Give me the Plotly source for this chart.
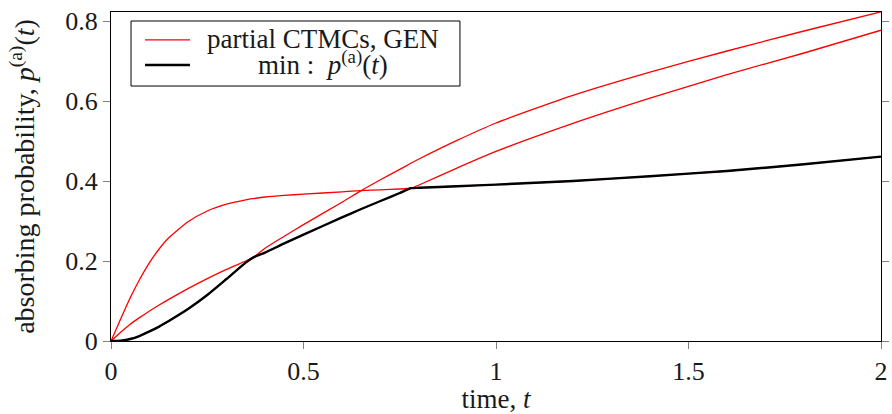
import numpy as np
import plotly.graph_objects as go

# time grid
t = [0, 0.025, 0.05, 0.075, 0.1, 0.125, 0.15, 0.2, 0.25, 0.3, 0.35, 0.37, 0.4, 0.45, 0.5,
     0.6, 0.65, 0.7, 0.75, 0.78, 0.8, 0.9, 1.0, 1.2, 1.4, 1.6, 1.8, 2.0]

# partial CTMC curves (red)
ctmc_fast = [0, 0.055, 0.108, 0.155, 0.196, 0.23, 0.258, 0.298, 0.325, 0.342, 0.353, 0.356, 0.36, 0.364, 0.367,
             0.373, 0.376, 0.378, 0.380, 0.382, 0.383, 0.387, 0.391, 0.4, 0.412, 0.425, 0.442, 0.461]
ctmc_concave = [0, 0.022, 0.042, 0.059, 0.075, 0.09, 0.104, 0.131, 0.156, 0.179, 0.2, 0.209, 0.221, 0.244, 0.266,
                0.309, 0.33, 0.35, 0.370, 0.382, 0.39, 0.433, 0.474, 0.544, 0.607, 0.666, 0.72, 0.777]
ctmc_sshape = [0, 0.001, 0.005, 0.013, 0.024, 0.036, 0.05, 0.08, 0.115, 0.155, 0.196, 0.209, 0.232, 0.262, 0.291,
               0.347, 0.376, 0.403, 0.429, 0.445, 0.455, 0.502, 0.545, 0.614, 0.672, 0.725, 0.775, 0.823]

series = [ctmc_fast, ctmc_concave, ctmc_sshape]
p_min = np.min(np.array(series), axis=0)

x_ticks = [0, 0.5, 1, 1.5, 2]
x_tick_text = ["0", "0.5", "1", "1.5", "2"]
y_ticks = [0, 0.2, 0.4, 0.6, 0.8]
y_tick_text = ["0", "0.2", "0.4", "0.6", "0.8"]

legend_labels = ["partial CTMCs, GEN", "min :\u00a0 <i>p</i><sup>(a)</sup>(<i>t</i>)"]

FONT = "Liberation Serif"
TXT = "#1a1a1a"

fig = go.Figure()
for i, s in enumerate(series):
    fig.add_trace(go.Scatter(
        x=t, y=s, mode="lines",
        line=dict(color="#ff0000", width=1.3, shape="spline", smoothing=0.6),
        name=legend_labels[0], showlegend=False,
    ))
fig.add_trace(go.Scatter(
    x=t, y=p_min, mode="lines",
    line=dict(color="#000000", width=2.4, shape="spline", smoothing=0.6),
    name=legend_labels[1], showlegend=False,
))

# hand-built legend box (paper coords = plot-area domain)
fig.add_shape(type="rect", xref="paper", yref="paper", x0=0.026, x1=0.4532, y0=0.775, y1=0.9726,
              line=dict(color="#000000", width=1), fillcolor="white", layer="above")
fig.add_shape(type="line", xref="paper", yref="paper", x0=0.0442, x1=0.1026, y0=0.915, y1=0.915,
              line=dict(color="#ff0000", width=1.3), layer="above")
fig.add_shape(type="line", xref="paper", yref="paper", x0=0.0442, x1=0.1026, y0=0.839, y1=0.839,
              line=dict(color="#000000", width=2.4), layer="above")
fig.add_annotation(xref="paper", yref="paper", x=0.275, y=0.917, text=legend_labels[0],
                   showarrow=False, xanchor="center", yanchor="middle",
                   font=dict(family=FONT, size=27, color=TXT))
fig.add_annotation(xref="paper", yref="paper", x=0.275, y=0.845, text=legend_labels[1],
                   showarrow=False, xanchor="center", yanchor="middle",
                   font=dict(family=FONT, size=27, color=TXT))

fig.update_layout(
    width=892, height=414,
    margin=dict(l=111, r=11, t=12, b=73),
    paper_bgcolor="white", plot_bgcolor="white",
    font=dict(family=FONT, size=26, color=TXT),
    showlegend=False,
)
fig.update_xaxes(
    range=[0, 2], tickmode="array", tickvals=x_ticks, ticktext=x_tick_text,
    showgrid=False, zeroline=False, automargin=False,
    showline=True, linecolor="#000000", linewidth=1, mirror=True,
    ticks="outside", ticklen=7, tickcolor="#808080", tickwidth=1,
    title=dict(text="time, <i>t</i>", font=dict(size=27)),
    tickfont=dict(size=26),
)
fig.update_yaxes(
    range=[0, 0.8225], tickmode="array", tickvals=y_ticks, ticktext=y_tick_text,
    showgrid=False, zeroline=False, automargin=False,
    showline=True, linecolor="#000000", linewidth=1, mirror="ticks",
    ticks="outside", ticklen=7, tickcolor="#808080", tickwidth=1,
    title=dict(text="absorbing probability, <i>p</i><sup>(a)</sup>(<i>t</i>)", font=dict(size=28), standoff=22),
    tickfont=dict(size=26),
)

fig.write_html("out.html", config={"displayModeBar": False},
               post_script="document.body.style.margin='0';")
